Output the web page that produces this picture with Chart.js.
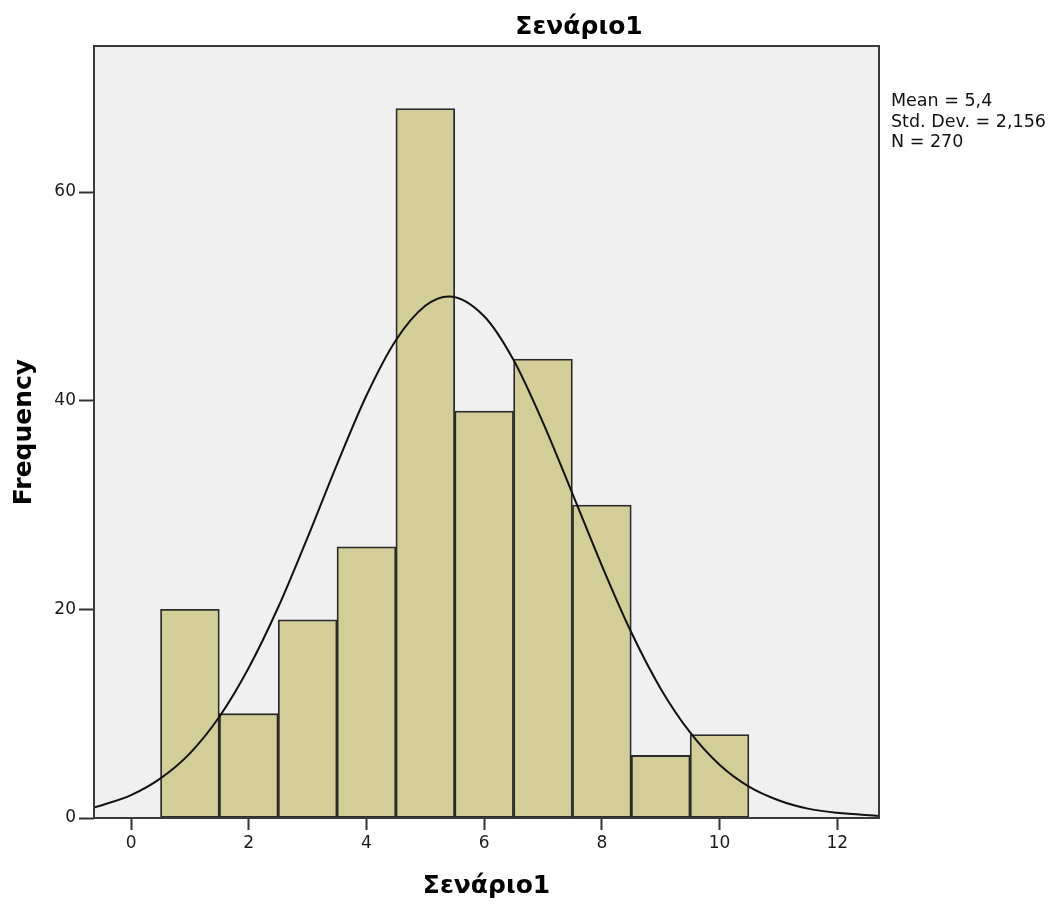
<!DOCTYPE html>
<html>
<head>
<meta charset="utf-8">
<script src="https://cdn.jsdelivr.net/npm/chart.js@4/dist/chart.umd.min.js"></script>
<style>
  html, body { margin: 0; padding: 0; background: #ffffff; }
  #wrap { position: relative; width: 1056px; height: 905px; }
</style>
</head>
<body>
<div id="wrap"><canvas id="c" width="1056" height="905"></canvas></div>
<script>
// ---- data ----
const chartTitle = "Σενάριο1";
const xAxisTitle = "Σενάριο1";
const yAxisTitle = "Frequency";
const statsLines = ["Mean = 5,4", "Std. Dev. = 2,156", "N = 270"];

const binCenters = [1, 2, 3, 4, 5, 6, 7, 8, 9, 10];
const binCounts  = [20, 10, 19, 26, 68, 39, 44, 30, 6, 8];

// fitted normal curve
const curveX = [-0.63, 0, 0.5, 1, 1.5, 2, 2.5, 3, 3.5, 4, 4.5, 5, 5.4, 6, 6.5, 7, 7.5, 8, 8.5, 9, 9.5, 10, 10.5, 11, 11.5, 12, 12.71];
const curveY = [1.0, 2.2, 3.8, 6.2, 9.7, 14.4, 20.2, 26.9, 33.9, 40.5, 45.8, 49.1, 50.0, 48.1, 43.9, 37.9, 31.1, 24.2, 17.8, 12.4, 8.2, 5.1, 3.0, 1.7, 0.9, 0.5, 0.2];

const xMin = -0.63, xMax = 12.71, xStep = 2;
const yMin = 0, yMax = 74, yStep = 20;

// ---- chart ----
const tickFont = { family: "DejaVu Sans", size: 17 };
const bgPlugin = {
  id: "plotFrame",
  beforeDatasetsDraw(chart) {
    const a = chart.chartArea, ctx = chart.ctx;
    ctx.save();
    ctx.fillStyle = "#f0f0f0";
    ctx.fillRect(a.left, a.top, a.right - a.left, a.bottom - a.top);
    ctx.restore();
  },
  afterDraw(chart) {
    const a = chart.chartArea, ctx = chart.ctx;
    ctx.save();
    ctx.strokeStyle = "#3a3a3a";
    ctx.lineWidth = 2;
    ctx.strokeRect(a.left, a.top, a.right - a.left, a.bottom - a.top);
    // texts
    ctx.fillStyle = "#000";
    ctx.font = "bold 25px 'DejaVu Sans'";
    ctx.textAlign = "center";
    ctx.textBaseline = "alphabetic";
    ctx.fillText(chartTitle, 579, 34);
    ctx.fillText(xAxisTitle, (a.left + a.right) / 2, 893);
    ctx.save();
    ctx.translate(31, (a.top + a.bottom) / 2);
    ctx.rotate(-Math.PI / 2);
    ctx.fillText(yAxisTitle, 0, 0);
    ctx.restore();
    ctx.font = "17.5px 'DejaVu Sans'";
    ctx.textAlign = "left";
    ctx.fillStyle = "#111";
    statsLines.forEach((t, i) => ctx.fillText(t, 891, 106 + i * 20.5));
    ctx.restore();
  }
};

new Chart(document.getElementById("c"), {
  type: "bar",
  data: {
    datasets: [
      {
        type: "line",
        data: curveX.map((x, i) => ({ x: x, y: curveY[i] })),
        borderColor: "#111111",
        borderWidth: 2,
        pointRadius: 0,
        fill: false,
        cubicInterpolationMode: "monotone",
        order: 0
      },
      {
        type: "bar",
        data: binCenters.map((x, i) => ({ x: x, y: binCounts[i] })),
        backgroundColor: "#d3ce97",
        borderColor: "#2a2a2a",
        borderWidth: 1.8,
        borderSkipped: false,
        barPercentage: 1,
        categoryPercentage: 1,
        order: 1
      }
    ]
  },
  options: {
    responsive: false,
    animation: false,
    events: [],
    layout: { padding: { top: 46, right: 177, left: 0, bottom: 0 } },
    plugins: { legend: { display: false }, title: { display: false }, tooltip: { enabled: false } },
    scales: {
      x: {
        type: "linear",
        offset: false,
        min: xMin, max: xMax,
        afterFit(s) { s.height = 87; },
        ticks: { stepSize: xStep, includeBounds: false, color: "#1a1a1a", font: tickFont, padding: 3, maxRotation: 0 },
        grid: { display: true, offset: false, drawOnChartArea: false, drawTicks: true, tickLength: 12, tickColor: "#333", tickWidth: 2 },
        border: { display: false }
      },
      y: {
        type: "linear",
        min: yMin, max: yMax,
        afterFit(s) { s.width = 94; },
        ticks: { stepSize: yStep, includeBounds: false, color: "#1a1a1a", font: tickFont, padding: 3 },
        grid: { display: true, offset: false, drawOnChartArea: false, drawTicks: true, tickLength: 15, tickColor: "#333", tickWidth: 2 },
        border: { display: false }
      }
    }
  },
  plugins: [bgPlugin]
});
</script>
</body>
</html>
